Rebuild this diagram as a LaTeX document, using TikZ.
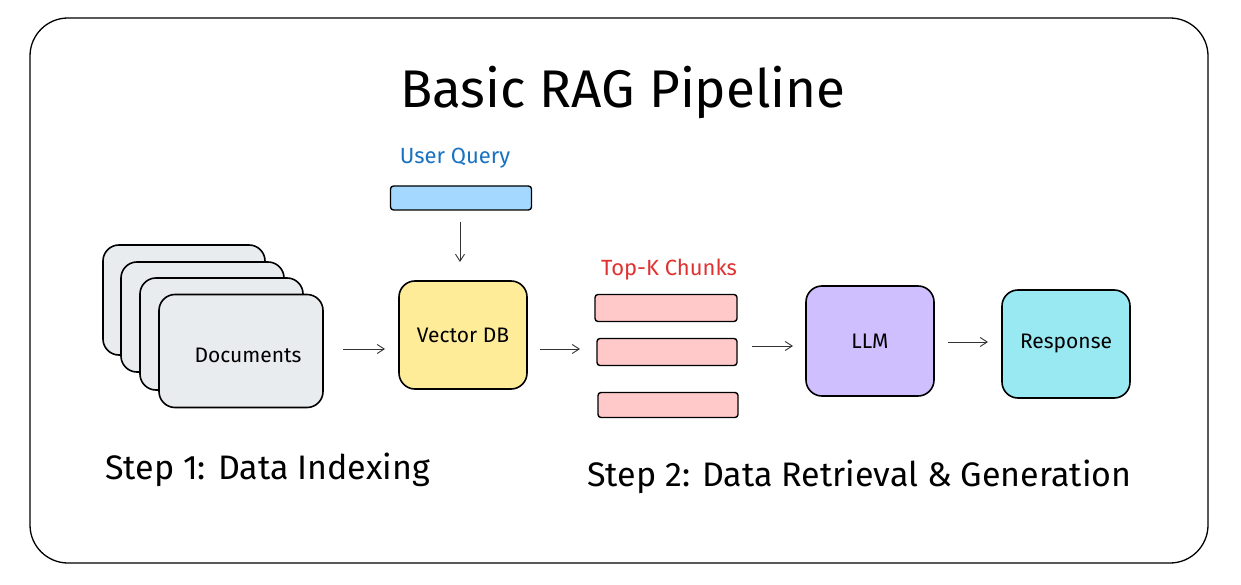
\documentclass[tikz,border=0pt]{standalone}
\usepackage{fontspec}
\setmainfont{Fira Sans}
\usetikzlibrary{arrows.meta}
\definecolor{docg}{HTML}{E9ECEF}
\definecolor{vdb}{HTML}{FFEC99}
\definecolor{uq}{HTML}{A5D8FF}
\definecolor{uqt}{HTML}{1971C2}
\definecolor{chk}{HTML}{FFC9C9}
\definecolor{chkt}{HTML}{E03131}
\definecolor{llm}{HTML}{D0BFFF}
\definecolor{resp}{HTML}{99E9F2}
\begin{document}
\begin{tikzpicture}[x=1pt,y=-1pt,
  box/.style={draw=black,line width=1.6pt,rounded corners=16pt},
  bar/.style={draw=black,line width=1.4pt,rounded corners=3pt},
  arr/.style={-{Straight Barb[length=7pt,width=9pt]},line width=0.9pt,draw=black!80},
  lbl/.style={font=\fontsize{21}{24}\selectfont},
  sml/.style={font=\fontsize{22}{26}\selectfont},
  big/.style={font=\fontsize{34}{40}\selectfont}]
\useasboundingbox (0,0) rectangle (1241,585);
\draw[line width=1.3pt,rounded corners=38pt,fill=white] (30,18) rectangle (1208,563);
\node[font=\fontsize{53}{60}\selectfont] (title) at (623,92) {Basic RAG Pipeline};
% documents
\draw[box,fill=docg] (103,245) rectangle (265,355);
\draw[box,fill=docg] (121,262) rectangle (284,372);
\draw[box,fill=docg] (140,278) rectangle (303,390);
\node[box,fill=docg,minimum width=164pt,minimum height=113pt] (docs) at (241,351) {};
\node[lbl] at (248,355) {Documents};
% user query
\node[sml,text=uqt] (uql) at (455,158) {User Query};
\node[bar,fill=uq,minimum width=141pt,minimum height=24pt] (uq) at (461,198) {};
\node[box,fill=vdb,minimum width=128pt,minimum height=108pt,lbl] (vdb) at (463,335) {Vector DB};
% chunks
\node[sml,text=chkt] (tkl) at (669,270) {Top-K Chunks};
\node[bar,fill=chk,minimum width=142pt,minimum height=27pt] (c1) at (666,308) {};
\node[bar,fill=chk,minimum width=140pt,minimum height=27pt] (c2) at (667,352) {};
\node[bar,fill=chk,minimum width=140pt,minimum height=25pt] (c3) at (668,405) {};
\node[box,fill=llm,minimum width=128pt,minimum height=110pt,lbl] (llm) at (870,341) {LLM};
\node[box,fill=resp,minimum width=128pt,minimum height=108pt,lbl] (resp) at (1066,344) {Response};
\coordinate (a1s) at (343,349); \coordinate (a1e) at (385,349);
\coordinate (a2s) at (460,222); \coordinate (a2e) at (460,262);
\coordinate (a3s) at (540,349); \coordinate (a3e) at (580,349);
\coordinate (a4s) at (752,346); \coordinate (a4e) at (793,346);
\coordinate (a5s) at (948,342); \coordinate (a5e) at (988,342);
\draw[arr] (a1s) -- (a1e);
\draw[arr] (a2s) -- (a2e);
\draw[arr] (a3s) -- (a3e);
\draw[arr] (a4s) -- (a4e);
\draw[arr] (a5s) -- (a5e);
\node[big,anchor=west,inner sep=0pt] (s1) at (105,470) {Step 1: Data Indexing};
\node[big,anchor=west,inner sep=0pt] (s2) at (587,477) {Step 2: Data Retrieval \& Generation};
\end{tikzpicture}
\end{document}
